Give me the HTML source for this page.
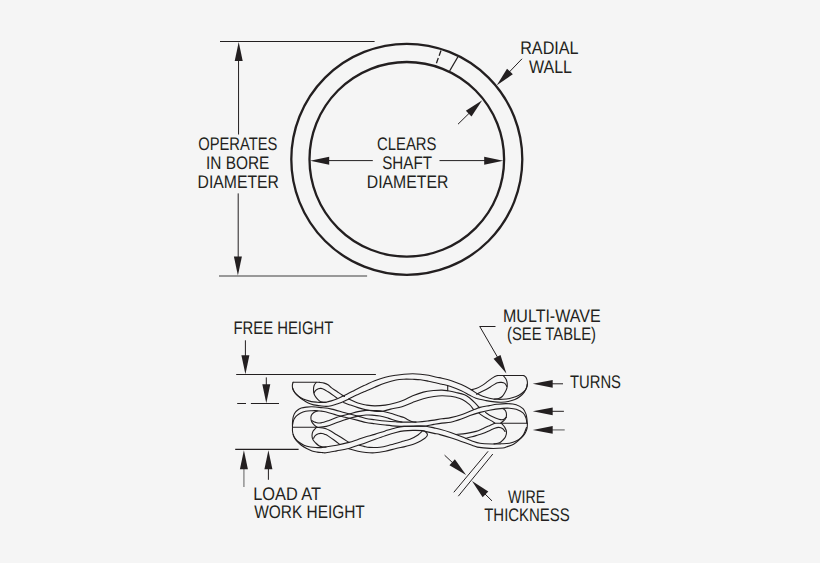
<!DOCTYPE html>
<html><head><meta charset="utf-8"><style>
html,body{margin:0;padding:0;background:#f5f5f5;}
svg{display:block;}
text{font-family:"Liberation Sans",sans-serif;text-rendering:geometricPrecision;}
</style></head><body>
<svg width="820" height="563" viewBox="0 0 820 563">
<rect width="820" height="563" fill="#f5f5f5"/>
<g fill="none" stroke="#231f20" stroke-width="1.1" stroke-linecap="round" stroke-linejoin="round"><path d="M292.90,382.30L319.30,382.30"/><path d="M293.10,382.30C292.98,382.75 292.48,384.03 292.40,385.00C292.32,385.97 292.35,387.05 292.60,388.10C292.85,389.15 293.25,390.23 293.90,391.30C294.55,392.37 295.35,393.43 296.50,394.50C297.65,395.57 299.20,396.77 300.80,397.70C302.40,398.63 304.33,399.45 306.10,400.10C307.87,400.75 309.58,401.25 311.40,401.60C313.22,401.95 315.23,402.07 317.00,402.20C318.77,402.33 320.50,402.40 322.00,402.40C323.50,402.40 324.45,402.45 326.00,402.20C327.55,401.95 329.52,401.43 331.30,400.90C333.08,400.37 334.92,399.72 336.70,399.00C338.48,398.28 340.23,397.43 342.00,396.60C343.77,395.77 345.53,394.88 347.30,394.00C349.07,393.12 350.82,392.23 352.60,391.30C354.38,390.37 355.77,389.50 358.00,388.40C360.23,387.30 363.22,385.97 366.00,384.70C368.78,383.43 371.48,382.03 374.70,380.80C377.92,379.57 381.75,378.23 385.30,377.30C388.85,376.37 392.88,375.72 396.00,375.20C399.12,374.68 401.22,374.43 404.00,374.20C406.78,373.97 409.93,373.80 412.70,373.80C415.47,373.80 417.95,373.95 420.60,374.20C423.25,374.45 425.92,374.80 428.60,375.30C431.28,375.80 434.47,376.72 436.70,377.20C438.93,377.68 439.67,377.65 442.00,378.20C444.33,378.75 447.48,379.43 450.70,380.50C453.92,381.57 457.93,383.10 461.30,384.60C464.67,386.10 468.28,388.00 470.90,389.50C473.52,391.00 475.03,392.47 477.00,393.60C478.97,394.73 480.63,395.53 482.70,396.30C484.77,397.07 486.93,397.70 489.40,398.20C491.87,398.70 495.27,399.12 497.50,399.30C499.73,399.48 500.80,399.43 502.80,399.30C504.80,399.17 507.27,398.97 509.50,398.50C511.73,398.03 514.18,397.33 516.20,396.50C518.22,395.67 520.08,394.57 521.60,393.50C523.12,392.43 524.38,391.33 525.30,390.10C526.22,388.87 526.77,387.55 527.10,386.10C527.43,384.65 527.48,382.85 527.30,381.40C527.12,379.95 526.62,378.38 526.00,377.40C525.38,376.42 524.00,375.82 523.60,375.50"/><path d="M497.50,375.50L523.60,375.50"/><path d="M292.60,388.00C292.77,388.42 293.12,389.60 293.60,390.50C294.08,391.40 294.65,392.38 295.50,393.40C296.35,394.42 297.47,395.53 298.70,396.60C299.93,397.67 301.32,398.73 302.90,399.80C304.48,400.87 306.42,402.15 308.20,403.00C309.98,403.85 311.63,404.43 313.60,404.90C315.57,405.37 317.93,405.55 320.00,405.80C322.07,406.05 324.12,406.40 326.00,406.40C327.88,406.40 329.52,406.18 331.30,405.80C333.08,405.42 334.92,404.70 336.70,404.10C338.48,403.50 340.23,402.92 342.00,402.20C343.77,401.48 345.53,400.68 347.30,399.80C349.07,398.92 350.82,397.80 352.60,396.90C354.38,396.00 356.10,395.25 358.00,394.40C359.90,393.55 361.22,393.00 364.00,391.80C366.78,390.60 371.15,388.67 374.70,387.20C378.25,385.73 381.75,384.20 385.30,383.00C388.85,381.80 392.88,380.63 396.00,380.00C399.12,379.37 401.22,379.32 404.00,379.20C406.78,379.08 409.93,379.22 412.70,379.30C415.47,379.38 417.95,379.38 420.60,379.70C423.25,380.02 425.93,380.65 428.60,381.20C431.27,381.75 434.37,382.50 436.60,383.00C438.83,383.50 439.65,383.60 442.00,384.20C444.35,384.80 447.48,385.50 450.70,386.60C453.92,387.70 458.20,389.40 461.30,390.80C464.40,392.20 466.85,393.75 469.30,395.00C471.75,396.25 473.20,397.37 476.00,398.30C478.80,399.23 482.97,400.00 486.10,400.60C489.23,401.20 492.23,401.63 494.80,401.90C497.37,402.17 499.27,402.27 501.50,402.20C503.73,402.13 505.97,401.95 508.20,401.50C510.43,401.05 512.88,400.38 514.90,399.50C516.92,398.62 518.73,397.43 520.30,396.20C521.87,394.97 523.25,393.57 524.30,392.10C525.35,390.63 526.12,388.75 526.60,387.40C527.08,386.05 527.10,384.57 527.20,384.00"/><path d="M316.20,382.40C315.85,382.92 314.55,384.28 314.10,385.50C313.65,386.72 313.50,388.28 313.50,389.70C313.50,391.12 313.65,392.67 314.10,394.00C314.55,395.33 315.32,396.55 316.20,397.70C317.08,398.85 318.42,400.17 319.40,400.90C320.38,401.63 321.00,401.87 322.10,402.10C323.20,402.33 325.35,402.27 326.00,402.30"/><path d="M319.30,382.30C320.12,382.43 322.75,382.70 324.20,383.10C325.65,383.50 326.82,383.95 328.00,384.70C329.18,385.45 329.85,386.50 331.30,387.60C332.75,388.70 334.92,390.07 336.70,391.30C338.48,392.53 340.70,394.15 342.00,395.00C343.30,395.85 344.08,396.17 344.50,396.40"/><path d="M348.60,398.90C349.72,399.42 353.30,401.18 355.30,402.00C357.30,402.82 358.82,403.30 360.60,403.80C362.38,404.30 363.65,404.65 366.00,405.00C368.35,405.35 371.48,405.88 374.70,405.90C377.92,405.92 381.75,405.63 385.30,405.10C388.85,404.57 392.88,403.55 396.00,402.70C399.12,401.85 401.22,401.15 404.00,400.00C406.78,398.85 409.48,397.12 412.70,395.80C415.92,394.48 419.75,392.98 423.30,392.10C426.85,391.22 430.88,390.83 434.00,390.50C437.12,390.17 439.72,390.05 442.00,390.10C444.28,390.15 445.37,390.40 447.70,390.80C450.03,391.20 453.20,391.83 456.00,392.50C458.80,393.17 462.17,393.85 464.50,394.80C466.83,395.75 468.25,396.87 470.00,398.20C471.75,399.53 473.47,401.23 475.00,402.80C476.53,404.37 478.50,406.80 479.20,407.60"/><path d="M479.10,413.40C480.20,414.13 483.62,416.55 485.70,417.80C487.78,419.05 490.08,420.00 491.60,420.90C493.12,421.80 494.27,422.82 494.80,423.20"/><path d="M314.10,392.90C314.37,392.47 314.98,391.00 315.70,390.30C316.42,389.60 317.52,389.02 318.40,388.70C319.28,388.38 320.03,388.27 321.00,388.40C321.97,388.53 323.03,388.93 324.20,389.50C325.37,390.07 326.82,391.05 328.00,391.80C329.18,392.55 329.77,392.93 331.30,394.00C332.83,395.07 336.22,397.50 337.20,398.20"/><path d="M343.60,402.50C344.67,402.90 347.60,404.05 350.00,404.90C352.40,405.75 355.33,406.80 358.00,407.60C360.67,408.40 363.22,409.10 366.00,409.70C368.78,410.30 371.93,410.95 374.70,411.20C377.47,411.45 379.95,411.55 382.60,411.20C385.25,410.85 387.37,409.85 390.60,409.10C393.83,408.35 398.32,407.82 402.00,406.70C405.68,405.58 409.15,403.73 412.70,402.40C416.25,401.07 419.75,399.68 423.30,398.70C426.85,397.72 430.88,396.98 434.00,396.50C437.12,396.02 439.22,395.83 442.00,395.80C444.78,395.77 448.37,396.05 450.70,396.30C453.03,396.55 454.07,396.75 456.00,397.30C457.93,397.85 460.03,398.38 462.30,399.60C464.57,400.82 467.73,402.95 469.60,404.60C471.47,406.25 472.85,408.68 473.50,409.50"/><path d="M485.50,412.40C486.52,413.05 489.37,415.15 491.60,416.30C493.83,417.45 496.95,418.75 498.90,419.30C500.85,419.85 502.07,419.95 503.30,419.60C504.53,419.25 505.80,417.60 506.30,417.20"/><path d="M447.70,386.20L447.70,390.80"/><path d="M497.50,375.50C496.82,375.82 494.97,376.47 493.40,377.40C491.83,378.33 489.88,379.82 488.10,381.10C486.32,382.38 484.72,383.85 482.70,385.10C480.68,386.35 477.95,387.82 476.00,388.60C474.05,389.38 471.83,389.60 471.00,389.80"/><path d="M506.80,386.50C506.47,385.98 505.68,384.08 504.80,383.40C503.92,382.72 502.72,382.52 501.50,382.40C500.28,382.28 498.95,382.20 497.50,382.70C496.05,383.20 494.70,384.27 492.80,385.40C490.90,386.53 488.33,388.27 486.10,389.50C483.87,390.73 481.00,392.02 479.40,392.80C477.80,393.58 476.98,393.97 476.50,394.20"/><path d="M503.50,375.80C503.95,376.40 505.58,378.13 506.20,379.40C506.82,380.67 507.08,381.95 507.20,383.40C507.32,384.85 507.30,386.53 506.90,388.10C506.50,389.67 505.58,391.40 504.80,392.80C504.02,394.20 503.20,395.55 502.20,396.50C501.20,397.45 500.17,398.05 498.80,398.50C497.43,398.95 494.80,399.08 494.00,399.20"/><path d="M292.50,427.30C292.50,426.45 292.40,423.85 292.50,422.20C292.60,420.55 292.78,418.82 293.10,417.40C293.42,415.98 293.73,414.85 294.40,413.70C295.07,412.55 295.95,411.43 297.10,410.50C298.25,409.57 299.72,408.67 301.30,408.10C302.88,407.53 304.82,407.32 306.60,407.10C308.38,406.88 309.60,406.72 312.00,406.80C314.40,406.88 317.73,407.22 321.00,407.60C324.27,407.98 327.60,408.23 331.60,409.10C335.60,409.97 340.60,411.63 345.00,412.80C349.40,413.97 354.50,415.15 358.00,416.10C361.50,417.05 363.22,417.90 366.00,418.50C368.78,419.10 371.48,419.28 374.70,419.70C377.92,420.12 381.75,420.65 385.30,421.00C388.85,421.35 392.88,421.62 396.00,421.80C399.12,421.98 400.33,422.07 404.00,422.10C407.67,422.13 413.90,422.20 418.00,422.00C422.10,421.80 424.60,421.43 428.60,420.90C432.60,420.37 438.32,419.35 442.00,418.80C445.68,418.25 447.48,418.27 450.70,417.60C453.92,416.93 457.40,416.13 461.30,414.80C465.20,413.47 470.98,410.83 474.10,409.60C477.22,408.37 477.45,408.07 480.00,407.40C482.55,406.73 486.57,406.12 489.40,405.60C492.23,405.08 494.20,404.63 497.00,404.30C499.80,403.97 503.00,403.53 506.20,403.60C509.40,403.67 513.40,403.85 516.20,404.70C519.00,405.55 521.37,407.13 523.00,408.70C524.63,410.27 525.33,412.30 526.00,414.10C526.67,415.90 526.80,417.98 527.00,419.50C527.20,421.02 527.17,422.58 527.20,423.20"/><path d="M292.70,424.50C292.77,424.12 292.87,423.12 293.10,422.20C293.33,421.28 293.53,420.07 294.10,419.00C294.67,417.93 295.47,416.77 296.50,415.80C297.53,414.83 298.78,413.95 300.30,413.20C301.82,412.45 303.65,411.72 305.60,411.30C307.55,410.88 310.32,410.82 312.00,410.70C313.68,410.58 314.37,410.55 315.70,410.60C317.03,410.65 318.23,410.77 320.00,411.00C321.77,411.23 323.47,411.30 326.30,412.00C329.13,412.70 333.88,414.33 337.00,415.20C340.12,416.07 341.50,416.33 345.00,417.20C348.50,418.07 354.50,419.52 358.00,420.40C361.50,421.28 363.22,421.95 366.00,422.50C368.78,423.05 371.48,423.28 374.70,423.70C377.92,424.12 381.75,424.60 385.30,425.00C388.85,425.40 392.88,425.87 396.00,426.10C399.12,426.33 400.33,426.40 404.00,426.40C407.67,426.40 414.33,426.17 418.00,426.10C421.67,426.03 423.33,426.28 426.00,426.00C428.67,425.72 431.33,424.88 434.00,424.40C436.67,423.92 439.22,423.45 442.00,423.10C444.78,422.75 447.48,422.97 450.70,422.30C453.92,421.63 458.08,420.22 461.30,419.10C464.52,417.98 466.88,416.72 470.00,415.60C473.12,414.48 476.77,413.30 480.00,412.40C483.23,411.50 485.60,410.87 489.40,410.20C493.20,409.53 499.45,408.73 502.80,408.40C506.15,408.07 507.27,408.05 509.50,408.20C511.73,408.35 513.95,408.53 516.20,409.30C518.45,410.07 521.37,411.33 523.00,412.80C524.63,414.27 525.37,416.43 526.00,418.10C526.63,419.77 526.67,422.02 526.80,422.80"/><path d="M317.30,411.00C316.68,411.28 314.58,411.98 313.60,412.70C312.62,413.42 311.85,414.37 311.40,415.30C310.95,416.23 310.85,417.23 310.90,418.30C310.95,419.37 311.17,420.60 311.70,421.70C312.23,422.80 313.25,423.98 314.10,424.90C314.95,425.82 316.35,426.82 316.80,427.20"/><path d="M311.80,420.60C312.45,420.90 314.17,422.02 315.70,422.40C317.23,422.78 318.78,423.22 321.00,422.90C323.22,422.58 326.33,421.43 329.00,420.50C331.67,419.57 335.02,418.03 337.00,417.30C338.98,416.57 338.73,416.70 340.90,416.10C343.07,415.50 347.15,414.45 350.00,413.70C352.85,412.95 355.33,412.15 358.00,411.60C360.67,411.05 363.22,410.57 366.00,410.40C368.78,410.23 371.93,410.47 374.70,410.60C377.47,410.73 379.95,410.75 382.60,411.20C385.25,411.65 388.03,412.53 390.60,413.30C393.17,414.07 395.77,415.08 398.00,415.80C400.23,416.52 402.45,417.00 404.00,417.60C405.55,418.20 405.85,418.70 407.30,419.40C408.75,420.10 411.25,421.35 412.70,421.80C414.15,422.25 415.45,422.05 416.00,422.10"/><path d="M316.80,427.40C318.38,427.23 322.93,427.20 326.30,426.40C329.67,425.60 333.88,423.72 337.00,422.60C340.12,421.48 343.02,420.38 345.00,419.70C346.98,419.02 346.73,419.10 348.90,418.50C351.07,417.90 355.15,416.68 358.00,416.10C360.85,415.52 363.67,415.17 366.00,415.00C368.33,414.83 369.67,414.93 372.00,415.10C374.33,415.27 377.33,415.50 380.00,416.00C382.67,416.50 385.33,417.30 388.00,418.10C390.67,418.90 393.67,420.15 396.00,420.80C398.33,421.45 401.00,421.80 402.00,422.00"/><path d="M502.80,408.50C503.25,408.88 504.88,409.75 505.50,410.80C506.12,411.85 506.50,413.47 506.50,414.80C506.50,416.13 506.12,417.68 505.50,418.80C504.88,419.92 503.63,420.77 502.80,421.50C501.97,422.23 500.88,422.92 500.50,423.20"/><path d="M292.80,427.30L316.80,427.30"/><path d="M494.80,423.20L527.20,423.20"/><path d="M292.50,427.30C292.50,427.97 292.37,430.00 292.50,431.30C292.63,432.60 292.80,433.85 293.30,435.10C293.80,436.35 294.60,437.65 295.50,438.80C296.40,439.95 297.28,440.93 298.70,442.00C300.12,443.07 302.05,444.37 304.00,445.20C305.95,446.03 308.27,446.60 310.40,447.00C312.53,447.40 315.03,447.50 316.80,447.60C318.57,447.70 319.47,447.72 321.00,447.60C322.53,447.48 323.38,447.28 326.00,446.90C328.62,446.52 332.88,446.05 336.70,445.30C340.52,444.55 345.35,443.38 348.90,442.40C352.45,441.42 355.15,440.33 358.00,439.40C360.85,438.47 363.22,437.63 366.00,436.80C368.78,435.97 371.48,435.38 374.70,434.40C377.92,433.42 381.75,432.02 385.30,430.90C388.85,429.78 392.88,428.45 396.00,427.70C399.12,426.95 400.33,426.67 404.00,426.40C407.67,426.13 414.33,426.12 418.00,426.10C421.67,426.08 423.33,426.00 426.00,426.30C428.67,426.60 431.67,427.42 434.00,427.90C436.33,428.38 437.22,428.45 440.00,429.20C442.78,429.95 447.15,431.20 450.70,432.40C454.25,433.60 457.75,434.98 461.30,436.40C464.85,437.82 468.88,439.75 472.00,440.90C475.12,442.05 476.53,442.78 480.00,443.30C483.47,443.82 489.22,443.92 492.80,444.00C496.38,444.08 498.72,443.93 501.50,443.80C504.28,443.67 507.05,443.65 509.50,443.20C511.95,442.75 514.18,442.05 516.20,441.10C518.22,440.15 520.13,438.78 521.60,437.50C523.07,436.22 524.10,434.87 525.00,433.40C525.90,431.93 526.60,430.37 527.00,428.70C527.40,427.03 527.33,424.28 527.40,423.40"/><path d="M293.20,434.50C293.40,435.03 293.75,436.55 294.40,437.70C295.05,438.85 295.95,440.15 297.10,441.40C298.25,442.65 299.72,444.03 301.30,445.20C302.88,446.37 304.82,447.43 306.60,448.40C308.38,449.37 310.22,450.38 312.00,451.00C313.78,451.62 315.53,451.83 317.30,452.10C319.07,452.37 321.15,452.48 322.60,452.60C324.05,452.72 323.65,453.08 326.00,452.80C328.35,452.52 332.88,451.62 336.70,450.90C340.52,450.18 345.35,449.43 348.90,448.50C352.45,447.57 355.48,446.15 358.00,445.30C360.52,444.45 361.22,444.38 364.00,443.40C366.78,442.42 371.15,440.68 374.70,439.40C378.25,438.12 381.75,436.85 385.30,435.70C388.85,434.55 392.88,433.30 396.00,432.50C399.12,431.70 401.22,431.25 404.00,430.90C406.78,430.55 409.67,430.45 412.70,430.40C415.73,430.35 419.98,430.40 422.20,430.60C424.42,430.80 424.03,431.13 426.00,431.60C427.97,432.07 431.67,432.90 434.00,433.40C436.33,433.90 437.22,433.88 440.00,434.60C442.78,435.32 447.15,436.57 450.70,437.70C454.25,438.83 457.75,440.15 461.30,441.40C464.85,442.65 469.33,444.25 472.00,445.20C474.67,446.15 474.30,446.57 477.30,447.10C480.30,447.63 485.75,448.25 490.00,448.40C494.25,448.55 499.98,448.27 502.80,448.00C505.62,447.73 505.10,447.43 506.90,446.80C508.70,446.17 511.60,445.32 513.60,444.20C515.60,443.08 517.33,441.57 518.90,440.10C520.47,438.63 521.98,436.85 523.00,435.40C524.02,433.95 524.42,432.72 525.00,431.40C525.58,430.08 526.25,428.15 526.50,427.50"/><path d="M316.20,427.60C315.67,428.22 313.70,429.97 313.00,431.30C312.30,432.63 312.00,434.18 312.00,435.60C312.00,437.02 312.38,438.57 313.00,439.80C313.62,441.03 314.72,442.02 315.70,443.00C316.68,443.98 317.83,445.07 318.90,445.70C319.97,446.33 320.92,446.58 322.10,446.80C323.28,447.02 325.35,446.97 326.00,447.00"/><path d="M316.80,427.40C318.33,427.63 322.68,427.58 326.00,428.80C329.32,430.02 332.88,432.43 336.70,434.70C340.52,436.97 346.87,441.12 348.90,442.40"/><path d="M359.00,445.30C359.83,445.48 362.28,446.05 364.00,446.40C365.72,446.75 366.63,447.27 369.30,447.40C371.97,447.53 376.45,447.63 380.00,447.20C383.55,446.77 386.60,445.83 390.60,444.80C394.60,443.77 400.77,441.92 404.00,441.00C407.23,440.08 407.67,440.30 410.00,439.30C412.33,438.30 415.97,436.35 418.00,435.00C420.03,433.65 421.50,431.83 422.20,431.20"/><path d="M313.60,438.30C313.87,437.85 314.40,436.37 315.20,435.60C316.00,434.83 317.25,434.05 318.40,433.70C319.55,433.35 320.95,433.37 322.10,433.50C323.25,433.63 324.32,434.10 325.30,434.50C326.28,434.90 326.55,434.98 328.00,435.90C329.45,436.82 332.07,438.60 334.00,440.00C335.93,441.40 338.67,443.58 339.60,444.30"/><path d="M348.90,448.80C350.42,449.20 355.15,450.58 358.00,451.20C360.85,451.82 363.22,452.23 366.00,452.50C368.78,452.77 371.48,453.02 374.70,452.80C377.92,452.58 381.75,451.92 385.30,451.20C388.85,450.48 392.88,449.22 396.00,448.50C399.12,447.78 401.67,447.43 404.00,446.90C406.33,446.37 408.12,445.88 410.00,445.30C411.88,444.72 413.53,444.13 415.30,443.40C417.07,442.67 419.00,441.77 420.60,440.90C422.20,440.03 423.83,439.00 424.90,438.20C425.97,437.40 426.60,436.80 427.00,436.10C427.40,435.40 427.57,434.72 427.30,434.00C427.03,433.28 426.25,432.37 425.40,431.80C424.55,431.23 422.73,430.80 422.20,430.60"/><path d="M494.80,423.20C493.90,423.62 491.42,424.78 489.40,425.70C487.38,426.62 484.93,427.75 482.70,428.70C480.47,429.65 478.68,430.62 476.00,431.40C473.32,432.18 469.93,432.88 466.60,433.40C463.27,433.92 457.77,434.32 456.00,434.50"/><path d="M465.60,438.50C466.67,438.22 469.93,437.38 472.00,436.80C474.07,436.22 476.22,435.53 478.00,435.00C479.78,434.47 480.80,434.32 482.70,433.60C484.60,432.88 487.38,431.60 489.40,430.70C491.42,429.80 493.23,428.75 494.80,428.20C496.37,427.65 497.47,427.32 498.80,427.40C500.13,427.48 501.77,428.02 502.80,428.70C503.83,429.38 504.63,431.03 505.00,431.50"/><path d="M501.50,423.50C502.05,424.15 503.97,425.97 504.80,427.40C505.63,428.83 506.38,430.53 506.50,432.10C506.62,433.67 506.12,435.47 505.50,436.80C504.88,438.13 503.80,439.10 502.80,440.10C501.80,441.10 500.97,442.17 499.50,442.80C498.03,443.43 494.92,443.72 494.00,443.90"/></g>
<line x1="220.00" y1="41.45" x2="374.60" y2="41.45" stroke="#231f20" stroke-width="1.15" />
<line x1="219.00" y1="276.00" x2="367.10" y2="276.00" stroke="#7a7a7a" stroke-width="1.4" />
<line x1="238.55" y1="58.00" x2="238.55" y2="134.50" stroke="#231f20" stroke-width="1.0" />
<line x1="238.20" y1="193.40" x2="238.20" y2="259.00" stroke="#231f20" stroke-width="1.0" />
<path d="M238.70,41.90 L242.70,60.90 L234.70,60.90 Z" fill="#231f20"/>
<path d="M237.90,275.60 L233.90,256.60 L241.90,256.60 Z" fill="#231f20"/>
<circle cx="406.8" cy="159.3" r="115.5" fill="none" stroke="#231f20" stroke-width="2.3"/>
<circle cx="406.8" cy="159.3" r="97.3" fill="none" stroke="#231f20" stroke-width="2.3"/>
<line x1="326.00" y1="160.60" x2="372.80" y2="160.60" stroke="#231f20" stroke-width="1.0" />
<line x1="439.50" y1="160.60" x2="487.00" y2="160.60" stroke="#231f20" stroke-width="1.0" />
<path d="M310.20,160.70 L329.20,156.70 L329.20,164.70 Z" fill="#231f20"/>
<path d="M503.20,160.70 L484.20,164.70 L484.20,156.70 Z" fill="#231f20"/>
<line x1="522.00" y1="58.80" x2="505.00" y2="76.50" stroke="#231f20" stroke-width="1.0" />
<path d="M496.80,85.20 L507.03,68.69 L512.81,74.22 Z" fill="#231f20"/>
<line x1="458.00" y1="124.20" x2="474.00" y2="108.50" stroke="#231f20" stroke-width="1.0" />
<path d="M482.20,100.30 L471.49,116.50 L465.87,110.80 Z" fill="#231f20"/>
<line x1="441.00" y1="50.50" x2="436.00" y2="64.40" stroke="#231f20" stroke-width="1.3" stroke-dasharray="5.5,2.5"/>
<line x1="457.80" y1="57.00" x2="449.60" y2="71.00" stroke="#231f20" stroke-width="1.3" />
<line x1="236.20" y1="374.50" x2="375.90" y2="374.50" stroke="#231f20" stroke-width="1.0" />
<line x1="245.40" y1="340.30" x2="245.40" y2="358.00" stroke="#231f20" stroke-width="1.0" />
<path d="M245.40,374.20 L241.40,355.20 L249.40,355.20 Z" fill="#231f20"/>
<line x1="266.30" y1="377.40" x2="266.30" y2="386.00" stroke="#231f20" stroke-width="1.0" />
<path d="M266.30,403.20 L262.30,384.20 L270.30,384.20 Z" fill="#231f20"/>
<line x1="237.20" y1="403.50" x2="246.00" y2="403.50" stroke="#231f20" stroke-width="1.0" />
<line x1="250.90" y1="403.50" x2="279.00" y2="403.50" stroke="#231f20" stroke-width="1.0" />
<line x1="235.20" y1="449.40" x2="298.60" y2="449.40" stroke="#231f20" stroke-width="1.1" />
<line x1="243.90" y1="467.00" x2="243.90" y2="487.00" stroke="#8a8a8a" stroke-width="1.4" />
<path d="M243.90,450.30 L247.90,469.30 L239.90,469.30 Z" fill="#231f20"/>
<line x1="268.40" y1="465.00" x2="268.40" y2="479.80" stroke="#231f20" stroke-width="1.0" />
<path d="M268.40,450.30 L272.40,469.30 L264.40,469.30 Z" fill="#231f20"/>
<line x1="479.70" y1="326.50" x2="495.50" y2="326.50" stroke="#231f20" stroke-width="1.0" />
<line x1="479.70" y1="326.40" x2="498.00" y2="358.00" stroke="#231f20" stroke-width="1.0" />
<path d="M506.40,373.40 L493.54,358.86 L500.49,354.90 Z" fill="#231f20"/>
<line x1="548.00" y1="383.80" x2="563.00" y2="383.80" stroke="#231f20" stroke-width="1.0" />
<path d="M532.70,383.80 L552.70,379.90 L552.70,387.70 Z" fill="#231f20"/>
<line x1="548.00" y1="411.30" x2="563.90" y2="411.30" stroke="#231f20" stroke-width="1.0" />
<path d="M532.70,411.30 L552.70,407.40 L552.70,415.20 Z" fill="#231f20"/>
<line x1="548.00" y1="429.90" x2="564.70" y2="429.90" stroke="#777" stroke-width="1.3" />
<path d="M532.70,429.90 L552.70,426.00 L552.70,433.80 Z" fill="#231f20"/>
<line x1="488.10" y1="451.30" x2="453.80" y2="492.30" stroke="#231f20" stroke-width="1.0" />
<line x1="492.80" y1="454.00" x2="458.30" y2="496.20" stroke="#231f20" stroke-width="1.0" />
<line x1="444.60" y1="455.20" x2="455.00" y2="465.00" stroke="#231f20" stroke-width="1.0" />
<path d="M466.10,475.10 L449.44,465.13 L454.87,459.26 Z" fill="#231f20"/>
<line x1="492.00" y1="500.90" x2="482.00" y2="491.00" stroke="#231f20" stroke-width="1.0" />
<path d="M472.00,481.00 L488.29,491.57 L482.65,497.24 Z" fill="#231f20"/>
<text x="198.20" y="150.10" textLength="79.20" lengthAdjust="spacingAndGlyphs" font-size="18.2" fill="#231f20">OPERATES</text>
<text x="206.00" y="169.10" textLength="63.40" lengthAdjust="spacingAndGlyphs" font-size="18.2" fill="#231f20">IN BORE</text>
<text x="197.60" y="187.60" textLength="81.40" lengthAdjust="spacingAndGlyphs" font-size="18.2" fill="#231f20">DIAMETER</text>
<text x="377.00" y="150.40" textLength="59.40" lengthAdjust="spacingAndGlyphs" font-size="18.2" fill="#231f20">CLEARS</text>
<text x="382.20" y="169.30" textLength="49.80" lengthAdjust="spacingAndGlyphs" font-size="18.2" fill="#231f20">SHAFT</text>
<text x="366.80" y="187.60" textLength="81.60" lengthAdjust="spacingAndGlyphs" font-size="18.2" fill="#231f20">DIAMETER</text>
<text x="520.20" y="53.90" textLength="58.40" lengthAdjust="spacingAndGlyphs" font-size="18.2" fill="#231f20">RADIAL</text>
<text x="529.00" y="72.90" textLength="43.00" lengthAdjust="spacingAndGlyphs" font-size="18.2" fill="#231f20">WALL</text>
<text x="233.40" y="334.10" textLength="100.00" lengthAdjust="spacingAndGlyphs" font-size="18.2" fill="#231f20">FREE HEIGHT</text>
<text x="503.00" y="322.10" textLength="97.60" lengthAdjust="spacingAndGlyphs" font-size="18.2" fill="#231f20">MULTI-WAVE</text>
<text x="507.00" y="339.90" textLength="89.00" lengthAdjust="spacingAndGlyphs" font-size="18.2" fill="#231f20">(SEE TABLE)</text>
<text x="570.00" y="387.60" textLength="51.00" lengthAdjust="spacingAndGlyphs" font-size="18.2" fill="#231f20">TURNS</text>
<text x="253.20" y="500.00" textLength="67.80" lengthAdjust="spacingAndGlyphs" font-size="18.2" fill="#231f20">LOAD AT</text>
<text x="254.20" y="518.10" textLength="110.60" lengthAdjust="spacingAndGlyphs" font-size="18.2" fill="#231f20">WORK HEIGHT</text>
<text x="508.00" y="503.10" textLength="37.20" lengthAdjust="spacingAndGlyphs" font-size="18.2" fill="#231f20">WIRE</text>
<text x="484.20" y="521.30" textLength="85.60" lengthAdjust="spacingAndGlyphs" font-size="18.2" fill="#231f20">THICKNESS</text>
</svg>
</body></html>
